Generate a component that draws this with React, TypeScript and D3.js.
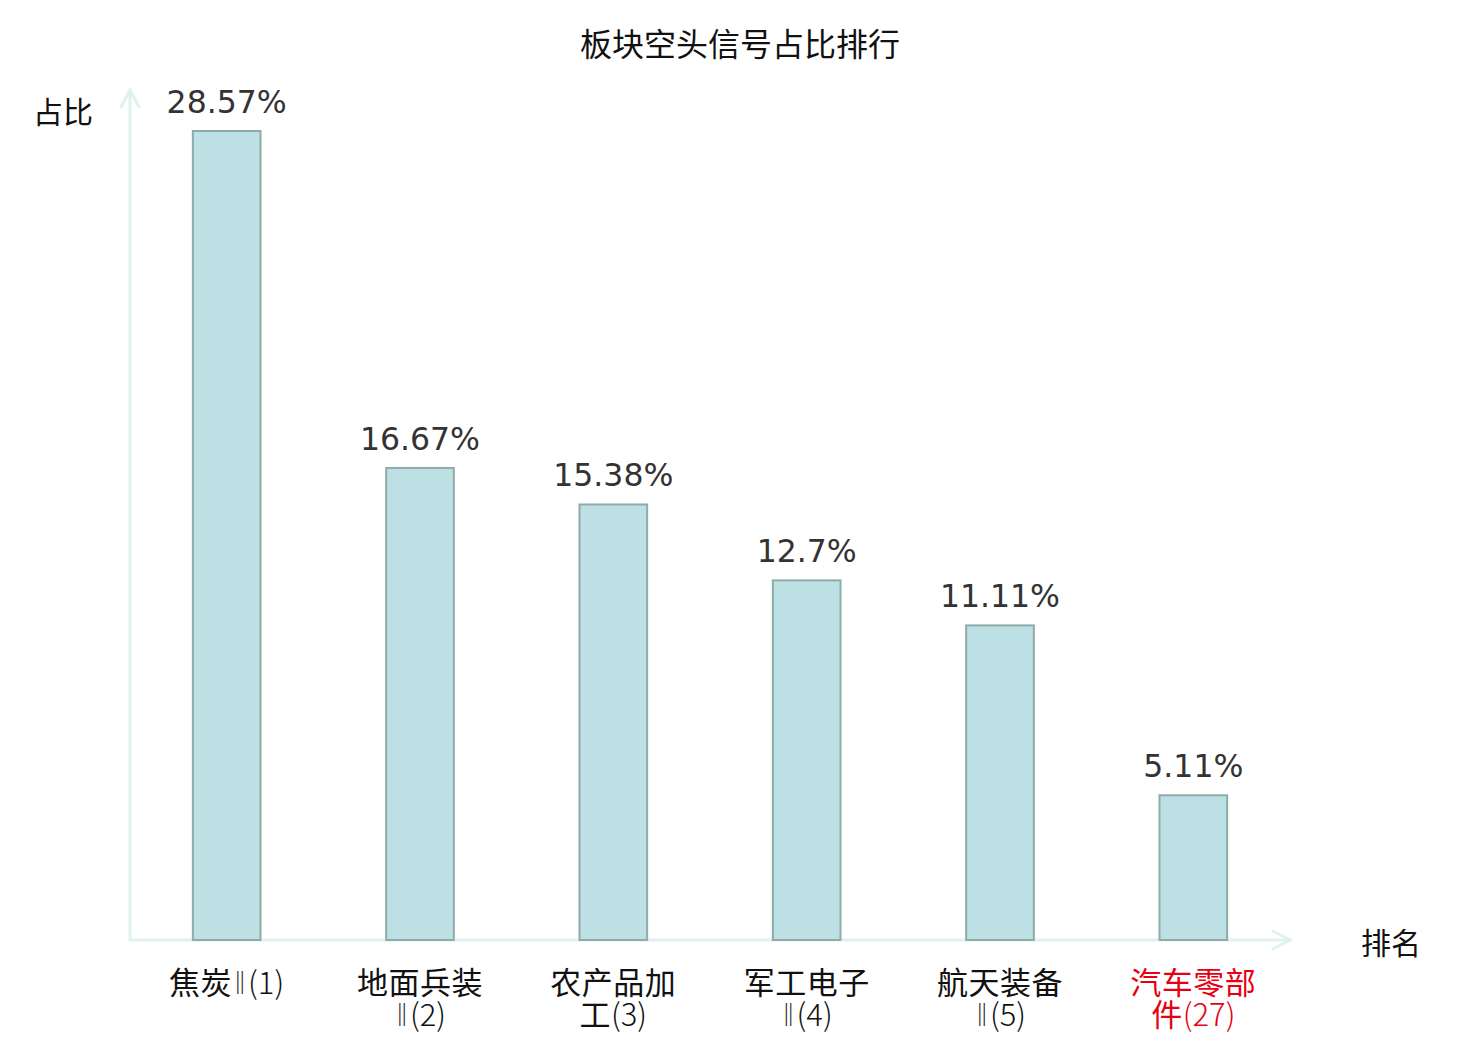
import React from "react";
import * as d3 from "d3";

const categories: string[][] = [
  ["焦炭Ⅱ(1)"],
  ["地面兵装", "Ⅱ(2)"],
  ["农产品加", "工(3)"],
  ["军工电子", "Ⅱ(4)"],
  ["航天装备", "Ⅱ(5)"],
  ["汽车零部", "件(27)"],
];
const values: number[] = [28.57, 16.67, 15.38, 12.7, 11.11, 5.11];
const valueLabels: string[] = ["28.57%", "16.67%", "15.38%", "12.7%", "11.11%", "5.11%"];
const highlight: boolean[] = [false, false, false, false, false, true];
const title = "板块空头信号占比排行";
const yName = "占比";
const xName = "排名";

const W = 1480;
const H = 1040;
const left = 130;
const right = 1290;
const bottom = 940;
const top = 131;

const CJK = "'Noto Sans CJK SC', 'DejaVu Sans', sans-serif";
const NUM = "'DejaVu Sans', 'Noto Sans CJK SC', sans-serif";

type Run = { t: string; kind: "cjk" | "roman" | "light" };
function runs(s: string): Run[] {
  const out: Run[] = [];
  for (const ch of Array.from(s)) {
    const kind: Run["kind"] = /[\u4e00-\u9fff]/.test(ch) ? "cjk" : ch === "Ⅱ" ? "roman" : "light";
    const last = out[out.length - 1];
    if (last && last.kind === kind) last.t += ch;
    else out.push({ t: ch, kind });
  }
  return out;
}

export default function App() {
  const x = d3
    .scaleBand<number>()
    .domain(values.map((_, i) => i))
    .range([left, right])
    .paddingInner(0.65)
    .paddingOuter(0.325);
  const y = d3.scaleLinear().domain([0, d3.max(values)!]).range([bottom, top]);
  const axisColor = "#dff2ef";
  return (
    <svg
      width={W}
      height={H}
      style={{ position: "absolute", left: 0, top: 0, background: "#fff" }}
    >
      <text x={740} y={42} textAnchor="middle" dominantBaseline="central" fontFamily={CJK} fontSize={32} fill="#111">
        {title}
      </text>
      <text x={63} y={110} textAnchor="middle" dominantBaseline="central" fontFamily={CJK} fontSize={30} fill="#111">
        {yName}
      </text>
      <text x={1391} y={941} textAnchor="middle" dominantBaseline="central" fontFamily={CJK} fontSize={30} fill="#111">
        {xName}
      </text>
      <g stroke={axisColor} strokeWidth={3} fill="none" strokeLinecap="round">
        <line x1={left} y1={bottom} x2={left} y2={90} />
        <polyline points={`${left - 9},107 ${left},90 ${left + 9},107`} />
        <line x1={left} y1={bottom} x2={right} y2={bottom} />
        <polyline points={`${right - 17},931 ${right},${bottom} ${right - 17},949`} />
      </g>
      {values.map((v, i) => (
        <g key={i}>
          <rect
            x={x(i)!}
            y={y(v)}
            width={x.bandwidth()}
            height={bottom - y(v)}
            fill="#bce0e3"
            stroke="#8eaaa9"
            strokeWidth={2}
          />
          <text
            x={x(i)! + x.bandwidth() / 2}
            y={y(v) - 18}
            textAnchor="middle"
            fontFamily={NUM}
            fontSize={31.5}
            fill="#333"
          >
            {valueLabels[i]}
          </text>
          {categories[i].map((line, j) => (
            <text
              key={j}
              x={x(i)! + x.bandwidth() / 2}
              y={980 + j * 32}
              textAnchor="middle"
              dominantBaseline="central"
              fontFamily={CJK}
              fontSize={31}
              fill={highlight[i] ? "#e60012" : "#111"}
            >
              {runs(line).map((r, k) =>
                r.kind === "roman" ? (
                  <tspan key={k} fontWeight={300} textLength={16} lengthAdjust="spacingAndGlyphs">
                    {r.t}
                  </tspan>
                ) : (
                  <tspan key={k} fontWeight={r.kind === "light" ? 300 : 400} letterSpacing={r.kind === "cjk" ? 0.5 : 0}>
                    {r.t}
                  </tspan>
                )
              )}
            </text>
          ))}
        </g>
      ))}
    </svg>
  );
}
